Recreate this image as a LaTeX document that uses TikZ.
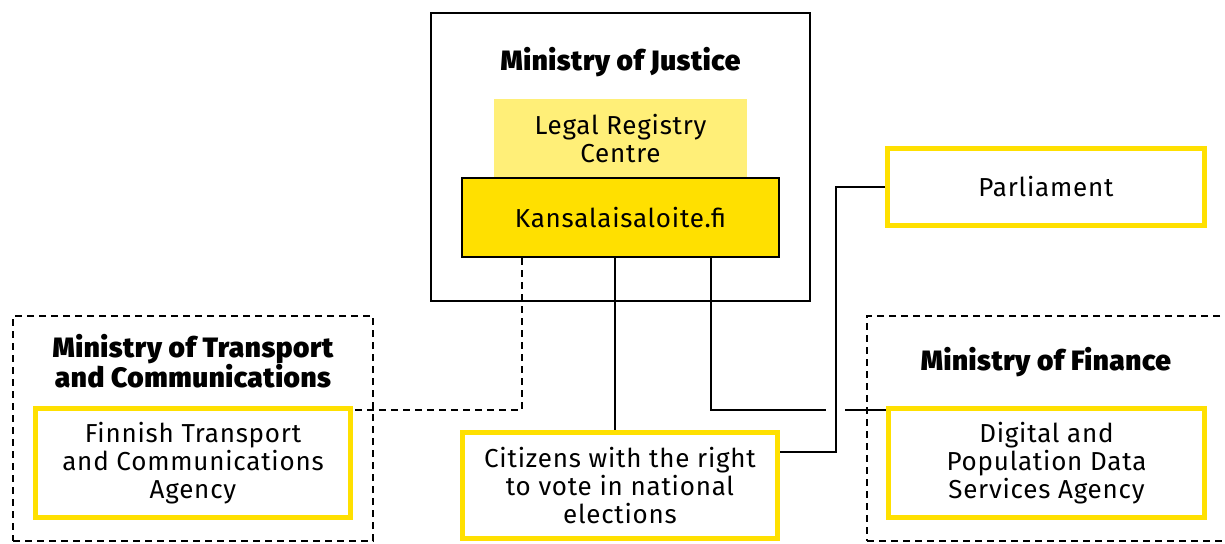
\documentclass[tikz,border=0pt]{standalone}
\usepackage{fontspec}
\setmainfont{Fira Sans}[LetterSpace=3]
\IfFontExistsTF{Fira Sans Black}{\newfontfamily\headfont{Fira Sans Black}[LetterSpace=2]}{\newcommand\headfont{\bfseries}}
\definecolor{kyellow}{HTML}{FFE000}
\definecolor{lyellow}{HTML}{FFEF78}
\begin{document}
\begin{tikzpicture}[x=1pt,y=-1pt,line width=2.5pt,font=\fontsize{26}{28}\selectfont,
	yelbox/.style={draw=kyellow,line width=5pt,fill=white,align=center,inner sep=0pt},
	minbox/.style={draw,dash pattern=on 7pt off 5pt},
	dashline/.style={dash pattern=on 7pt off 5pt},
	head/.style={font=\headfont\fontsize{28}{28}\selectfont,align=center}]
	\useasboundingbox (0,0) rectangle (1225,543);
	\node[minbox,minimum width=360,minimum height=225] (mot) at (193,428.5) {};
	\node[minbox,minimum width=376,minimum height=225] (mof) at (1055,428.5) {};
	\node[draw,minimum width=379,minimum height=288] (moj) at (620.5,157) {};
	\node[head] (mojT) at (620.5,62) {Ministry of Justice};
	\node[head] (motT) at (193,361) {Ministry of Transport\\and Communications};
	\node[head] (mofT) at (1046,362) {Ministry of Finance};
	\node[fill=lyellow,minimum width=253,minimum height=79,align=center,inner sep=0pt] (lrc) at (620.5,138.5) {Legal Registry\\Centre};
	\node[draw,fill=kyellow,minimum width=317,minimum height=79] (kan) at (620.5,217.5) {Kansalaisaloite.fi};
	\node[yelbox,minimum width=317,minimum height=77] (parl) at (1046,187) {Parliament};
	\node[yelbox,minimum width=315,minimum height=109] (fta) at (193,463) {Finnish Transport\\and Communications\\Agency};
	\node[yelbox,minimum width=315,minimum height=106] (cit) at (620,485.5) {Citizens with the right\\to vote in national\\elections};
	\node[yelbox,minimum width=316,minimum height=109] (dig) at (1046.5,463) {Digital and\\Population Data\\Services Agency};
	\coordinate (dj) at (522,410);
	\coordinate (c1) at (615,0);
	\coordinate (c2) at (711,0);
	\coordinate (c3) at (836,452);
	\coordinate (jl) at (826,410);
	\coordinate (jr) at (845,410);
	\draw[dashline] (kan.south -| dj) |- (fta.east |- dj);
	\draw (kan.south -| c1) -- (cit.north -| c1);
	\draw (kan.south -| c2) |- (jl);
	\draw (jr) -- (dig.west |- jr);
	\draw (parl.west) -| (c3) -- (cit.east |- c3);
\end{tikzpicture}
\end{document}
